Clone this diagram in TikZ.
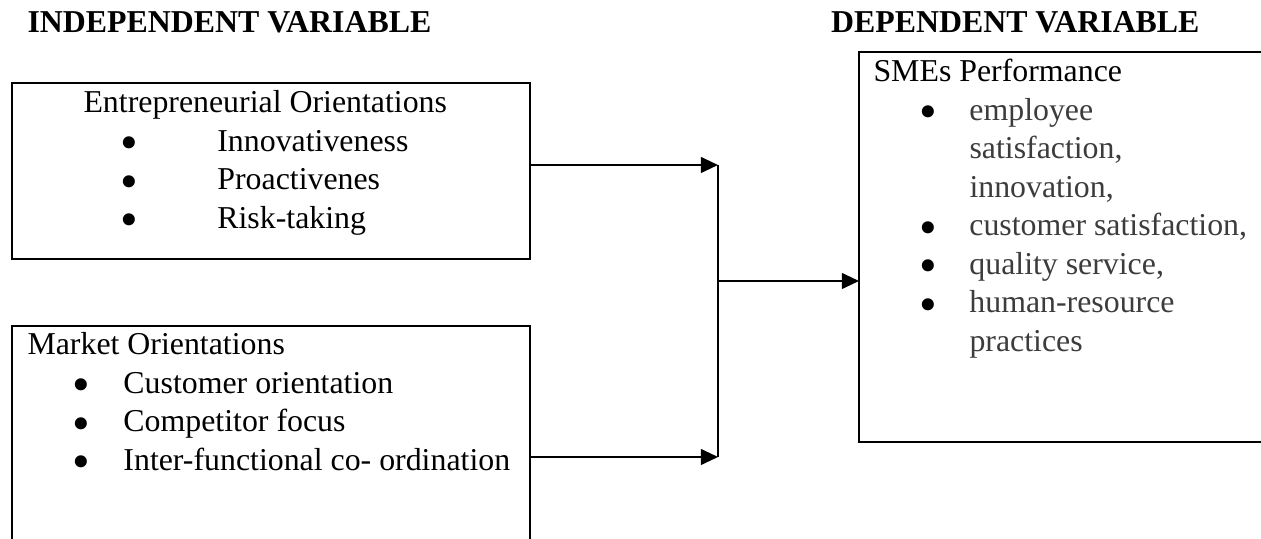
\documentclass[tikz,border=0pt]{standalone}
\usepackage{fontspec}
\setmainfont{Liberation Serif}
\usepackage{tikz}
\usetikzlibrary{arrows.meta}
\definecolor{itemgray}{RGB}{60,60,60}
\newcommand{\itembul}[1]{\makebox[#1][l]{\color{black}\smash{\raisebox{-3.2pt}{\fontsize{19}{0}\selectfont\textbullet}}}}

\begin{document}
\begin{tikzpicture}[x=0.01324cm,y=-0.01324cm,
  box/.style={draw,line width=0.7pt,rectangle,inner sep=0pt,outer sep=0pt,anchor=north west},
  txt/.style={inner sep=0pt,anchor=base west,font=\fontsize{12}{14.5}\selectfont},
  arr/.style={line width=0.7pt,-{Triangle[length=6.5pt,width=6pt]}}]
\clip (0,0) rectangle (1261,539);

% 标题
\node[txt,font=\fontsize{12}{14.5}\selectfont\bfseries] (indep) at (27,33) {INDEPENDENT VARIABLE};
\node[txt,anchor=base east,font=\fontsize{12}{14.5}\selectfont\bfseries] (dep) at (1200,33) {DEPENDENT VARIABLE};

% 自变量框
\node[box,minimum width=6.858cm,minimum height=2.330cm] (eo) at (12,83) {};
\node[txt] (eotitle) at (83,113) {Entrepreneurial Orientations};
\node[txt] (eoa) at (120,151.5) {\itembul{36.5pt}Innovativeness};
\node[txt] (eob) at (120,190) {\itembul{36.5pt}Proactivenes};
\node[txt] (eoc) at (120,228.5) {\itembul{36.5pt}Risk-taking};

\node[box,minimum width=6.858cm,minimum height=3.2cm] (mo) at (12,326) {};
\node[txt] (motitle) at (27,355) {Market Orientations};
\node[txt] (moa) at (72,393.5) {\itembul{19.2pt}Customer orientation};
\node[txt] (mob) at (72,432) {\itembul{19.2pt}Competitor focus};
\node[txt] (moc) at (72,470.5) {\itembul{19.2pt}Inter-functional co- ordination};

% 因变量框
\node[box,minimum width=5.84cm,minimum height=5.164cm] (sme) at (859,52) {};
\node[txt] (smetitle) at (873,82) {SMEs Performance};
\node[txt,text=itemgray] (smea1) at (919,120.5) {\itembul{18.8pt}employee};
\node[txt,text=itemgray] (smea2) at (969,159) {satisfaction,};
\node[txt,text=itemgray] (smea3) at (969,197.5) {innovation,};
\node[txt,text=itemgray] (smeb) at (919,236) {\itembul{18.8pt}customer satisfaction,};
\node[txt,text=itemgray] (smec) at (919,274.5) {\itembul{18.8pt}quality service,};
\node[txt,text=itemgray] (smed1) at (919,313) {\itembul{18.8pt}human-resource};
\node[txt,text=itemgray] (smed2) at (969,351.5) {practices};

% 连接线
\coordinate (j1) at (718,165);
\coordinate (jm) at (718,281);
\coordinate (j2) at (718,457);
\draw[arr] (eo.east |- j1) -- (j1);
\draw[arr] (mo.east |- j2) -- (j2);
\draw[line width=0.7pt] (j1) -- (j2);
\draw[arr] (jm) -- (sme.west |- jm);
\end{tikzpicture}
\end{document}
